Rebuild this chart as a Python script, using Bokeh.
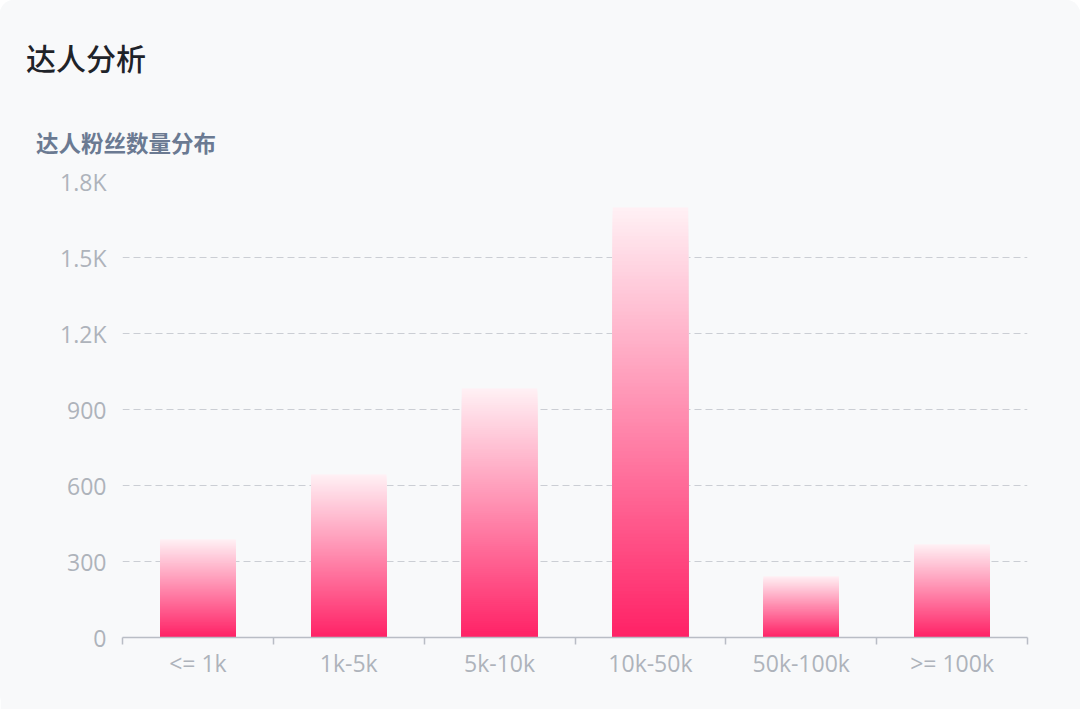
from bokeh.plotting import figure
from bokeh.models import Range1d, FixedTicker, ColumnDataSource, Div
from bokeh.layouts import column
from bokeh.embed import file_html
from bokeh.resources import INLINE

# ---- data ----
categories = ["<= 1k", "1k-5k", "5k-10k", "10k-50k", "50k-100k", ">= 100k"]
fans_counts = [388, 643, 983, 1697, 242, 368]
y_ticks = [0, 300, 600, 900, 1200, 1500, 1800]
y_tick_labels = ["0", "300", "600", "900", "1.2K", "1.5K", "1.8K"]

title_text = "达人分析"
subtitle_text = "达人粉丝数量分布"

# ---- style ----
BG = "#f8f9fa"
CJK = "Noto Sans CJK SC"
LATIN = "Open Sans"
bottom_rgb = (255, 34, 102)
top_rgb = (255, 240, 244)
N_LAYERS = 120
BAR_WIDTH = 0.5
HEADER_H = 160
TOTAL_W, TOTAL_H = 1080, 709

# gradient built as nested layers: tallest (lightest) first, shorter darker on top
left, right, bottom, top, color = [], [], [], [], []
for k in range(N_LAYERS, 0, -1):
    t = (k - 1) / (N_LAYERS - 1)
    r = round(bottom_rgb[0] + (top_rgb[0] - bottom_rgb[0]) * t)
    g = round(bottom_rgb[1] + (top_rgb[1] - bottom_rgb[1]) * t)
    b = round(bottom_rgb[2] + (top_rgb[2] - bottom_rgb[2]) * t)
    for i, v in enumerate(fans_counts):
        left.append(i + 0.5 - BAR_WIDTH / 2)
        right.append(i + 0.5 + BAR_WIDTH / 2)
        bottom.append(0)
        top.append(v * k / N_LAYERS)
        color.append("#%02x%02x%02x" % (r, g, b))
src = ColumnDataSource(dict(left=left, right=right, bottom=bottom, top=top, color=color))

header = Div(
    text=(
        f'<div style="position:relative;width:{TOTAL_W}px;height:{HEADER_H}px;">'
        f'<div style="position:absolute;left:26px;top:38px;font-family:\'{CJK}\';'
        f'font-size:30px;font-weight:500;line-height:38px;color:#1f2329;white-space:nowrap;">{title_text}</div>'
        f'<div style="position:absolute;left:36px;top:127px;font-family:\'{CJK}\';'
        f'font-size:22.5px;font-weight:bold;line-height:30px;color:#6b7a92;white-space:nowrap;">{subtitle_text}</div>'
        '</div>'
    ),
    width=TOTAL_W, height=HEADER_H, margin=0,
    styles={"background-color": BG, "border-top-left-radius": "14px",
            "border-top-right-radius": "14px"},
)

p = figure(width=TOTAL_W, height=TOTAL_H - HEADER_H, output_backend="svg",
           toolbar_location=None,
           x_range=Range1d(0, len(categories)), y_range=Range1d(0, 1800),
           min_border_left=122, min_border_right=53, min_border_top=181 - HEADER_H,
           min_border_bottom=72, margin=0)
p.background_fill_color = BG
p.border_fill_color = BG
p.outline_line_color = None

p.quad(left="left", right="right", bottom="bottom", top="top", source=src,
       fill_color="color", line_color=None)

# x axis
xa = p.xaxis[0]
xa.ticker = FixedTicker(ticks=[i + 0.5 for i in range(len(categories))],
                        minor_ticks=list(range(len(categories) + 1)))
xa.major_label_overrides = {i + 0.5: c for i, c in enumerate(categories)}
xa.major_tick_line_color = None
xa.major_tick_out = 0
xa.major_tick_in = 0
xa.minor_tick_line_color = "#b9bdc5"
xa.minor_tick_line_width = 1.5
xa.minor_tick_out = 7
xa.minor_tick_in = 0
xa.axis_line_color = "#b9bdc5"
xa.axis_line_width = 1.5
xa.major_label_text_color = "#aeb3bb"
xa.major_label_text_font = LATIN
xa.major_label_text_font_size = "23px"
xa.major_label_standoff = 2

# y axis
ya = p.yaxis[0]
ya.ticker = FixedTicker(ticks=y_ticks)
ya.major_label_overrides = {t: l for t, l in zip(y_ticks, y_tick_labels)}
ya.axis_line_color = None
ya.major_tick_line_color = None
ya.minor_tick_line_color = None
ya.major_tick_out = 0
ya.major_tick_in = 0
ya.major_label_text_color = "#aeb3bb"
ya.major_label_text_font = LATIN
ya.major_label_text_font_size = "23px"
ya.major_label_standoff = 16

p.xgrid.grid_line_color = None
p.ygrid.grid_line_color = "#cbced4"
p.ygrid.grid_line_dash = "7 4"
p.ygrid.grid_line_width = 1.2

layout = column(header, p, spacing=0, margin=0,
                styles={"background-color": BG, "border-radius": "14px"})
open("out.html", "w").write(file_html(layout, INLINE))
